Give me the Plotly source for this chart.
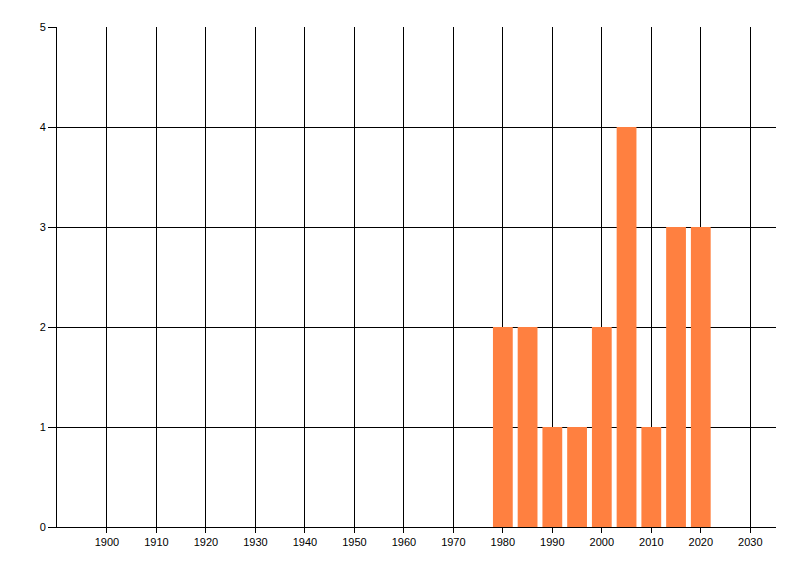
import plotly.graph_objects as go

years = [1980, 1985, 1990, 1995, 2000, 2005, 2010, 2015, 2020]
counts = [2, 2, 1, 1, 2, 4, 1, 3, 3]
x_ticks = list(range(1900, 2031, 10))
y_ticks = [0, 1, 2, 3, 4, 5]

fig = go.Figure(go.Bar(x=years, y=counts, width=4.0, marker=dict(color="#FF8040", line=dict(width=0))))

fig.update_layout(
    width=792, height=568,
    margin=dict(l=49, r=24, t=19, b=49),
    paper_bgcolor="white", plot_bgcolor="white",
    showlegend=False,
    font=dict(family="Liberation Sans, Arial, sans-serif", size=11, color="black"),
)
fig.update_xaxes(
    range=[1889.9, 2035.2], tickvals=x_ticks, ticktext=[str(t) for t in x_ticks],
    tickfont=dict(color="black", size=11),
    showgrid=True, gridcolor="black", gridwidth=1,
    showline=True, linecolor="black", linewidth=1,
    ticks="outside", ticklen=5, tickcolor="black", tickwidth=1,
    zeroline=False,
)
fig.update_yaxes(
    range=[0, 5], tickvals=y_ticks,
    tickfont=dict(color="black", size=11),
    showgrid=True, gridcolor="black", gridwidth=1,
    showline=True, linecolor="black", linewidth=1,
    ticks="outside", ticklen=8, tickcolor="black", tickwidth=1,
    zeroline=False,
)
fig.write_html("out.html")
